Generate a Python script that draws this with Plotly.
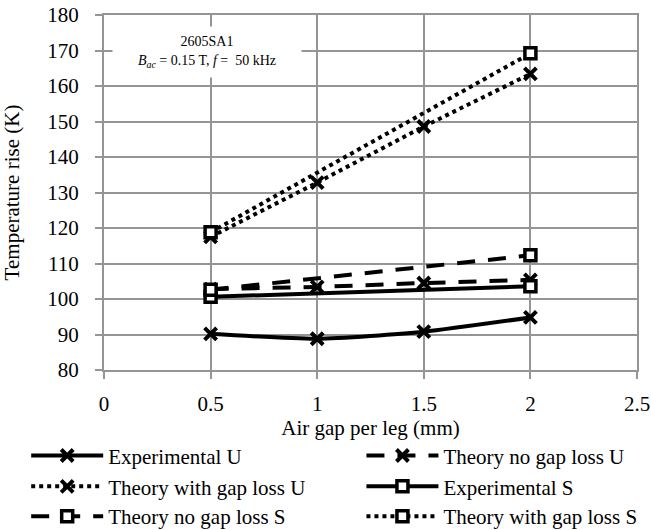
import plotly.graph_objects as go

# Air gap per leg (mm) for the U-core series and the S-core series
gap_u = [0.5, 1, 1.5, 2]
gap_s = [0.5, 2]

# Temperature rise (K)
exp_u = [90.2, 88.8, 90.8, 94.8]
nogap_u = [102.8, 103.4, 104.5, 105.4]
withgap_u = [117.5, 132.8, 148.6, 163.4]
exp_s = [100.6, 103.6]
nogap_s = [102.6, 112.3]
withgap_s = [118.8, 169.2]

x_ticks = [0, 0.5, 1, 1.5, 2, 2.5]
x_tick_text = ["0", "0.5", "1", "1.5", "2", "2.5"]
y_ticks = list(range(80, 181, 10))

FONT = "Liberation Serif"
GRID = "#959595"
DOT = "4px,4px"
DASH = "18px,13px"

x_marker = dict(symbol="x-thin", size=12, color="black",
                line=dict(width=4, color="black"))
sq_marker = dict(symbol="square", size=11, color="white",
                 line=dict(width=3.5, color="black"))

# name, x, y, dash, marker, line shape, legend slot (row-major, two columns)
series = [
    ("Experimental U", gap_u, exp_u, "solid", x_marker, "spline", "legend"),
    ("Theory no gap loss U", gap_u, nogap_u, DASH, x_marker, "linear", "legend2"),
    ("Theory with gap loss U", gap_u, withgap_u, DOT, x_marker, "linear", "legend3"),
    ("Experimental S", gap_s, exp_s, "solid", sq_marker, "linear", "legend4"),
    ("Theory no gap loss S", gap_s, nogap_s, DASH, sq_marker, "linear", "legend5"),
    ("Theory with gap loss S", gap_s, withgap_s, DOT, sq_marker, "linear", "legend6"),
]

fig = go.Figure()
for name, xs, ys, dash, marker, shape, leg in series:
    fig.add_trace(go.Scatter(
        x=xs, y=ys, name=name, mode="lines+markers", legend=leg,
        line=dict(color="black", width=4, dash=dash, shape=shape, smoothing=0.6),
        marker=marker,
    ))

fig.add_annotation(
    x=0.485, y=169.6, xref="x", yref="y",
    text="2605SA1<br><i>B</i><sub><i>ac</i></sub> = 0.15 T, <i>f</i> =  50 kHz",
    showarrow=False, bgcolor="white", align="center",
    font=dict(family=FONT, size=14, color="black"),
    width=186, height=48,
)

legend_style = dict(
    orientation="v", yanchor="top", xanchor="left",
    itemwidth=72, font=dict(family=FONT, size=21, color="black"),
    tracegroupgap=0, itemclick=False, bgcolor="rgba(0,0,0,0)",
)

# legend grid: two columns, three rows (paper coordinates)
col_x = [-0.146, 0.483]
row_y = [-0.184, -0.271, -0.355]
legends = {}
for i in range(6):
    key = "legend" if i == 0 else f"legend{i + 1}"
    legends[key] = dict(x=col_x[i % 2], y=row_y[i // 2], **legend_style)

fig.update_layout(
    width=651, height=530,
    margin=dict(l=104, r=14, t=15, b=159.5, autoexpand=False),
    paper_bgcolor="white", plot_bgcolor="white",
    font=dict(family=FONT, size=21, color="black"),
    showlegend=True,
    **legends,
    xaxis=dict(
        title=dict(text="Air gap per leg (mm)", standoff=4,
                   font=dict(family=FONT, size=21)),
        tickfont=dict(family=FONT, size=21), ticklabelstandoff=7,
        range=[0, 2.5], tickvals=x_ticks, ticktext=x_tick_text,
        showgrid=True, gridcolor=GRID, gridwidth=2,
        showline=True, linecolor=GRID, linewidth=2, mirror=True,
        ticks="outside", ticklen=7, tickcolor=GRID, tickwidth=2,
        zeroline=False,
    ),
    yaxis=dict(
        title=dict(text="Temperature rise (K)", standoff=25,
                   font=dict(family=FONT, size=21)),
        tickfont=dict(family=FONT, size=21), ticklabelstandoff=12,
        range=[80, 180], tickvals=y_ticks,
        showgrid=True, gridcolor=GRID, gridwidth=2,
        showline=True, linecolor=GRID, linewidth=2, mirror=True,
        ticks="outside", ticklen=7, tickcolor=GRID, tickwidth=2,
        zeroline=False,
    ),
)

fig.write_html("out.html")
